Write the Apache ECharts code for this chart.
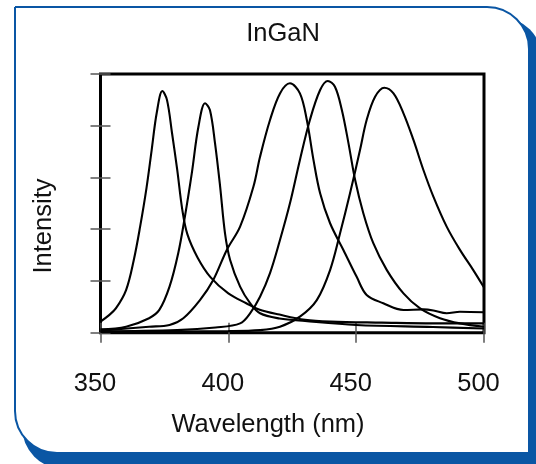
<!DOCTYPE html>
<html>
<head>
<meta charset="utf-8">
<script src="https://cdn.jsdelivr.net/npm/echarts@6/dist/echarts.min.js"></script>
<style>html,body{margin:0;padding:0;background:#fff;}#c{width:536px;height:464px;}</style>
</head>
<body>
<div id="c"></div>
<script>
// Data (wavelength nm, intensity arbitrary 0-100)
var xTicks = [350, 400, 450, 500];
var wl1 = [350, 353, 356, 360, 363, 365.5, 368, 370, 372, 374.2, 376, 378, 380, 382, 384, 388, 393, 400, 407, 412, 420, 430, 440, 460, 480, 500];
var int1 = [4.3, 6.5, 9.4, 16.5, 28, 41, 56, 70.5, 85, 93.4, 90, 77, 63, 47.5, 38, 29, 21.5, 15.2, 11.4, 9, 7, 5, 4.3, 3.9, 3.6, 3.6];
var wl2 = [350, 360, 369, 373, 377, 380.4, 383, 385.7, 388.3, 390.9, 392.8, 394.8, 396.8, 398.7, 400.7, 404.6, 408.5, 412.4, 420, 430, 450, 480, 500];
var int2 = [1.3, 2.3, 5.6, 8.8, 17.8, 30.7, 44.8, 61.6, 79.6, 88.7, 86.1, 73.2, 56.4, 38.4, 28.1, 17.8, 11.4, 7.5, 5.5, 4.5, 3, 2.2, 1.6];
var wl3 = [350, 369, 377, 382.4, 388.9, 394.1, 399.4, 404.6, 409.8, 412.4, 416.3, 420.2, 424.1, 428, 430.7, 433.3, 435.9, 439.8, 445, 450.2, 454.1, 460.6, 468.5, 476.3, 480.2, 485.4, 490.6, 500];
var int3 = [0.8, 2.3, 3, 5.6, 12.6, 20.4, 32, 41, 56.4, 68, 82.2, 92.5, 96.4, 92.5, 82.2, 66.8, 53.9, 42.3, 32, 21.6, 14.6, 11.4, 8.8, 9.0, 8.6, 7.5, 8.1, 7.9];
var wl4 = [350, 380, 395, 404.6, 408.5, 412.4, 416.3, 420.2, 424.1, 428, 431.9, 435.9, 438.9, 441.7, 444.4, 447, 449.6, 452.8, 456.7, 462, 468.5, 475, 482.8, 490.6, 500];
var int4 = [0.5, 1, 2, 3.6, 7.5, 13.9, 23, 35.8, 50, 66.8, 82.2, 93.8, 97.3, 95.1, 86.1, 73.2, 59, 46.2, 34.6, 24.2, 15.2, 9.4, 5.6, 3.6, 2.3];
var wl5 = [350, 400, 412.4, 420.2, 428, 434.6, 439.8, 443.7, 447.6, 451.5, 454.1, 457.4, 461, 464.6, 468.5, 472.4, 476.3, 480.2, 485.4, 490.6, 495.8, 500];
var int5 = [0.3, 0.6, 1, 2.3, 6.2, 12.6, 24.2, 38.4, 53.9, 70.6, 82.2, 91.2, 94.7, 92.5, 84.8, 74.5, 62.9, 52.6, 41, 32, 24.2, 17.5];

function pairs(xs, ys) { return xs.map(function (x, i) { return [x, ys[i]]; }); }
var curves = [[wl1, int1], [wl2, int2], [wl3, int3], [wl4, int4], [wl5, int5]];

var FONT = 'Liberation Sans, Arial, Helvetica, sans-serif';
var FS = 25.5;
var BLUE = '#0a56a4';
var tickStyle = { color: '#555', width: 1.5 };

var chart = echarts.init(document.getElementById('c'), null, { renderer: 'canvas' });
chart.setOption({
  backgroundColor: '#ffffff',
  animation: false,
  graphic: [
    { type: 'rect', z: -10, silent: true,
      shape: { x: 22, y: 17, width: 520, height: 452, r: [0, 42, 0, 42] },
      style: { fill: BLUE } },
    { type: 'rect', z: -9, silent: true,
      shape: { x: 15, y: 7, width: 514, height: 446, r: [0, 42, 0, 42] },
      style: { fill: '#ffffff', stroke: BLUE, lineWidth: 2 } },
    { type: 'text', z: 10, silent: true,
      x: 283, y: 34,
      style: { text: 'InGaN', font: FS + 'px ' + FONT, fill: '#111', align: 'center', verticalAlign: 'middle' } },
    { type: 'text', z: 10, silent: true,
      x: 268, y: 425,
      style: { text: 'Wavelength (nm)', font: FS + 'px ' + FONT, fill: '#111', align: 'center', verticalAlign: 'middle' } },
    { type: 'text', z: 10, silent: true,
      x: 44, y: 226, rotation: Math.PI / 2,
      style: { text: 'Intensity', font: FS + 'px ' + FONT, fill: '#111', align: 'center', verticalAlign: 'middle' } }
  ],
  grid: {
    left: 100.5, right: 52, top: 74, bottom: 131.3,
    show: true, borderColor: '#000', borderWidth: 3, backgroundColor: 'transparent'
  },
  xAxis: [
    { type: 'value', min: 350, max: 500, interval: 50,
      axisLine: { show: false }, splitLine: { show: false },
      axisTick: { show: true, inside: false, length: 10, lineStyle: tickStyle },
      axisLabel: { show: true, margin: 38, fontSize: FS, color: '#111', fontFamily: FONT, padding: [0, 11, 0, 0] } },
    { type: 'value', min: 350, max: 500, interval: 50, position: 'bottom',
      axisLine: { show: false }, splitLine: { show: false },
      axisTick: { show: true, inside: true, length: 10, lineStyle: tickStyle },
      axisLabel: { show: false } }
  ],
  yAxis: [
    { type: 'value', min: 0, max: 100, interval: 20,
      axisLine: { show: false }, splitLine: { show: false },
      axisTick: { show: true, inside: false, length: 10, lineStyle: tickStyle },
      axisLabel: { show: false } },
    { type: 'value', min: 0, max: 100, interval: 20, position: 'left',
      axisLine: { show: false }, splitLine: { show: false },
      axisTick: { show: true, inside: true, length: 10, lineStyle: tickStyle },
      axisLabel: { show: false } }
  ],
  series: curves.map(function (c) {
    return {
      type: 'line', xAxisIndex: 0, yAxisIndex: 0,
      data: pairs(c[0], c[1]),
      smooth: 0.35, showSymbol: false, symbol: 'none',
      lineStyle: { color: '#000', width: 2.1 },
      clip: true, z: 3
    };
  })
});
</script>
</body>
</html>
